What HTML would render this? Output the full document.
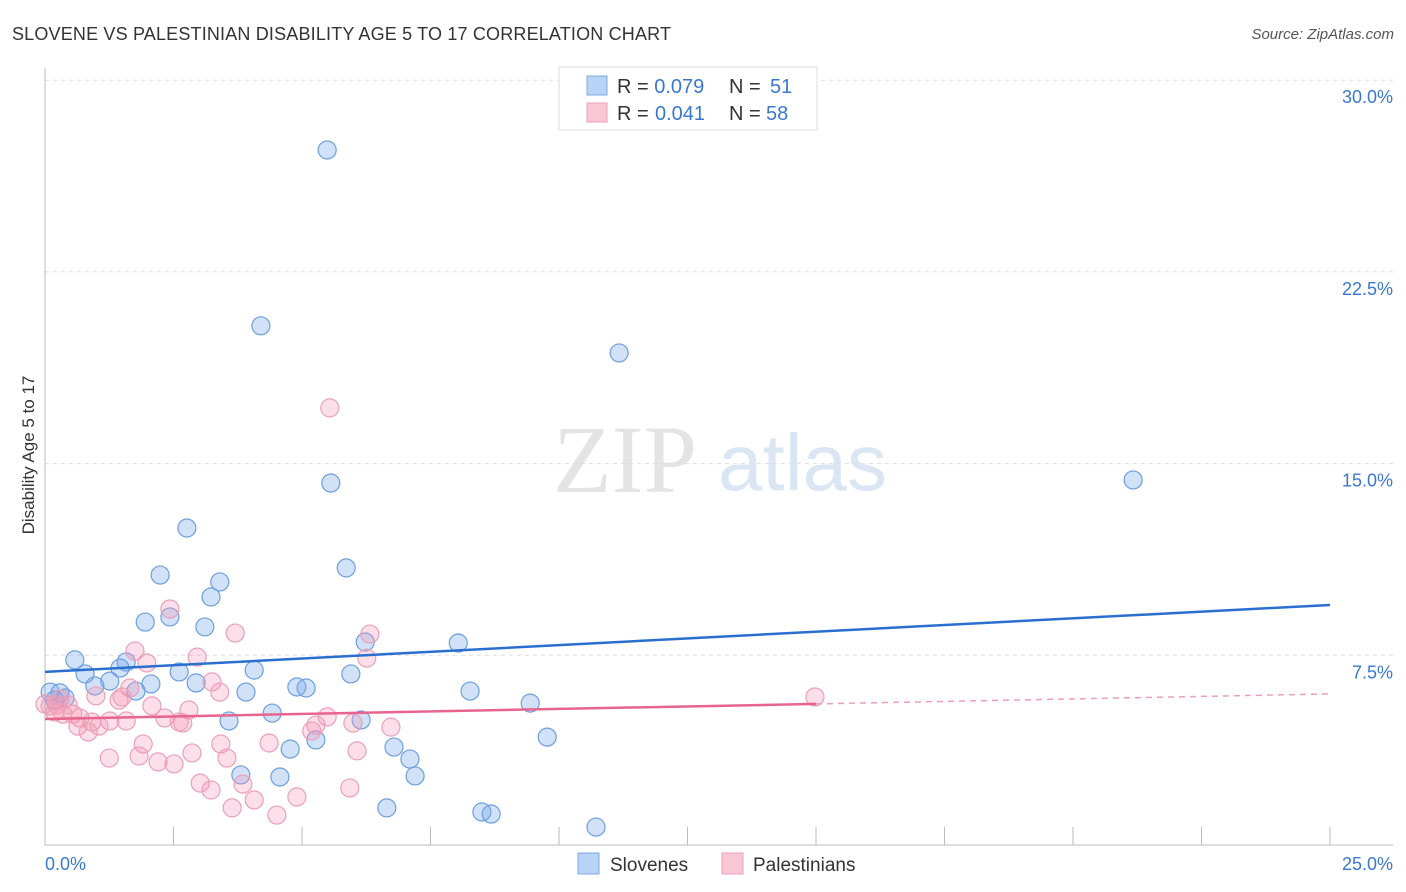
<!DOCTYPE html>
<html><head><meta charset="utf-8">
<style>
body{margin:0;background:#fff;font-family:"Liberation Sans",sans-serif;}
svg{display:block}
</style></head>
<body>
<svg width="1406" height="892" viewBox="0 0 1406 892" id="chart">
<text x="12" y="40" font-size="18" fill="#333" textLength="659">SLOVENE VS PALESTINIAN DISABILITY AGE 5 TO 17 CORRELATION CHART</text>
<text x="1394" y="39" font-size="15" fill="#555" font-style="italic" text-anchor="end">Source: ZipAtlas.com</text>
<g>
<text x="553" y="492" font-family="Liberation Serif,serif" font-size="96" fill="#e4e4e4">ZIP</text>
<text x="718" y="490" font-size="80" fill="#dbe6f5">atlas</text>
</g>
<g id="grid"></g>
<g id="axes"></g>
<g id="marks"></g>
<text transform="translate(34,455) rotate(-90)" font-size="17" fill="#333" text-anchor="middle">Disability Age 5 to 17</text>
<g>
<rect x="559" y="67" width="258" height="63" fill="#fff" stroke="#ddd"/>
<rect x="587" y="76" width="20" height="19" fill="#b9d3f4" stroke="#7fa9e0"/>
<text x="617" y="93" font-size="20" fill="#333">R = <tspan fill="#3a78d0">0.079</tspan><tspan x="729">N = </tspan><tspan fill="#3a78d0" x="770">51</tspan></text>
<rect x="587" y="103" width="20" height="19" fill="#f9c6d6" stroke="#eba0b8"/>
<text x="617" y="120" font-size="20" fill="#333">R = <tspan fill="#3a78d0" x="655">0.041</tspan><tspan x="729">N = </tspan><tspan fill="#3a78d0" x="766">58</tspan></text>
</g>
<g>
<rect x="578" y="853" width="21" height="21" fill="#b9d3f4" stroke="#7fa9e0"/>
<text x="610" y="871" font-size="19" fill="#333">Slovenes</text>
<rect x="722" y="853" width="21" height="21" fill="#f9c6d6" stroke="#eba0b8"/>
<text x="753" y="871" font-size="19" fill="#333">Palestinians</text>
</g>
</svg>
<script>
const yTicks=[7.5,15,22.5,30];
const yTickLabels=["7.5%","15.0%","22.5%","30.0%"];
const xTicks=[0,2.5,5,7.5,10,12.5,15,17.5,20,22.5,25];
const sloveneX=[5.49,4.20,11.17,21.17,5.56,2.76,5.86,2.24,3.40,3.23,1.95,2.43,3.11,6.23,8.04,0.58,1.58,1.46,0.78,2.61,4.07,5.95,1.26,0.97,2.06,2.94,1.77,4.90,5.08,8.27,3.91,0.10,0.29,0.39,9.44,4.42,6.15,3.58,5.27,4.77,9.77,6.79,7.10,3.81,4.57,7.20,6.65,8.50,8.68,10.72,0.19];
const sloveneY=[27.27,20.39,19.33,14.36,14.24,12.48,10.92,10.64,10.37,9.78,8.80,9.00,8.61,8.02,7.98,7.32,7.24,7.00,6.77,6.85,6.92,6.77,6.49,6.30,6.38,6.42,6.10,6.26,6.22,6.10,6.06,6.06,6.03,5.83,5.63,5.24,4.97,4.93,4.19,3.83,4.30,3.91,3.44,2.82,2.74,2.78,1.53,1.37,1.29,0.78,5.75];
const palX=[5.54,2.43,3.70,6.32,1.75,2.96,6.26,1.98,1.65,3.25,3.40,0.99,1.44,1.50,2.08,2.80,0.10,0.23,0.35,0.54,0.68,0.91,1.26,1.58,2.33,2.61,2.68,5.49,5.99,6.73,5.27,5.19,0.64,0.84,1.05,1.91,3.42,4.36,2.86,6.07,1.25,1.83,3.54,2.20,2.51,3.02,3.23,3.85,4.07,4.90,5.93,3.64,4.51,14.98,0.19,0.0,0.45,0.29];
const palY=[17.18,9.31,8.37,8.33,7.67,7.43,7.39,7.20,6.22,6.46,6.06,5.91,5.75,5.87,5.52,5.36,5.52,5.56,5.20,5.20,5.05,4.89,4.93,4.93,5.05,4.89,4.85,5.09,4.85,4.69,4.77,4.54,4.73,4.50,4.73,4.03,4.03,4.07,3.68,3.76,3.48,3.56,3.48,3.33,3.25,2.50,2.23,2.46,1.84,1.96,2.31,1.53,1.25,5.87,5.28,5.59,5.56,5.79];
const sloveneTrend=[6.85,9.47]; // y at x=0 and x=25
const palTrend=[5.01,5.99];
const palSolidMax=15;
const NS="http://www.w3.org/2000/svg";
const X=v=>45+v*51.4, Y=v=>847-v*25.56;
function mk(t,a,p){const e=document.createElementNS(NS,t);for(const k in a)e.setAttribute(k,a[k]);document.getElementById(p).appendChild(e);return e;}
yTicks.forEach((t,i)=>{
 const g=mk('line',{x1:45,x2:1393,y1:Y(t),y2:Y(t),stroke:'#ddd','stroke-dasharray':'4,4'},'grid');
 
 
 const l=mk('text',{x:1393,y:Y(t)+23,'text-anchor':'end','font-size':18,fill:'#3a78d0'},'axes');
 l.textContent=yTickLabels[i];
 
 
});
const ax=mk('line',{x1:45,x2:45,y1:68,y2:845,stroke:'#bbb'},'axes');


const bx=mk('line',{x1:45,x2:1393,y1:845,y2:845,stroke:'#bbb'},'axes');


xTicks.forEach(t=>{
 const tk=mk('line',{x1:X(t),x2:X(t),y1:827,y2:845,stroke:'#bbb'},'axes');
 
 
});
const x0=mk('text',{x:45,y:870,'font-size':18,fill:'#3a78d0'},'axes');x0.textContent="0.0%";


const x1=mk('text',{x:1393,y:870,'font-size':18,fill:'#3a78d0','text-anchor':'end'},'axes');x1.textContent="25.0%";


sloveneX.forEach((v,i)=>{
 const c=mk('circle',{cx:X(v),cy:Y(sloveneY[i]),r:9,fill:'rgba(120,170,235,0.35)',stroke:'#6d9fde','stroke-width':1.2},'marks');
 
 
});
palX.forEach((v,i)=>{
 const c=mk('circle',{cx:X(v),cy:Y(palY[i]),r:9,fill:'rgba(245,150,180,0.3)',stroke:'#eba0b8','stroke-width':1.2},'marks');
 
 
});
const tl=mk('line',{x1:X(0),y1:Y(sloveneTrend[0]),x2:X(25),y2:Y(sloveneTrend[1]),stroke:'#2a6fd0','stroke-width':2.5},'marks');


const pm=palTrend[0]+(palTrend[1]-palTrend[0])*palSolidMax/25;
const pl=mk('line',{x1:X(0),y1:Y(palTrend[0]),x2:X(palSolidMax),y2:Y(pm),stroke:'#e8648e','stroke-width':2.5},'marks');


const pd=mk('line',{x1:X(palSolidMax),y1:Y(pm),x2:X(25),y2:Y(palTrend[1]),stroke:'#eba0b8','stroke-width':1.5,'stroke-dasharray':'6,5'},'marks');


</script>
</body></html>
